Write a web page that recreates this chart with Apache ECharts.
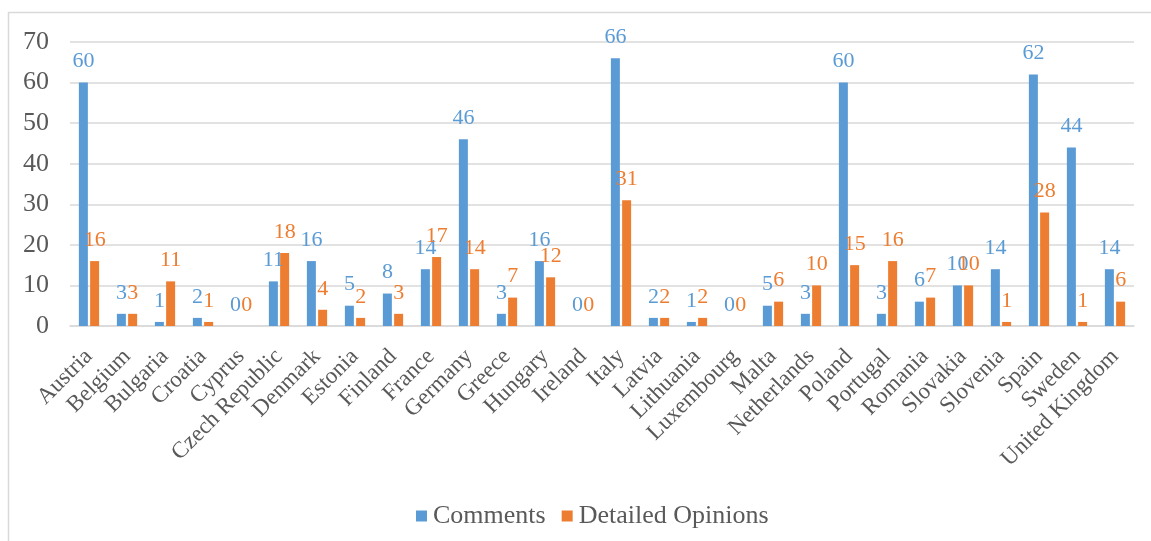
<!DOCTYPE html>
<html>
<head>
<meta charset="utf-8">
<script src="https://cdn.jsdelivr.net/npm/echarts@6/dist/echarts.min.js"></script>
<style>html,body{margin:0;padding:0;background:#fff;}#c{width:1151px;height:541px;}</style>
</head>
<body>
<div id="c"></div>
<script>
const categories = ["Austria","Belgium","Bulgaria","Croatia","Cyprus","Czech Republic","Denmark","Estonia","Finland","France","Germany","Greece","Hungary","Ireland","Italy","Latvia","Lithuania","Luxembourg","Malta","Netherlands","Poland","Portugal","Romania","Slovakia","Slovenia","Spain","Sweden","United Kingdom"];
const comments = [60,3,1,2,0,11,16,5,8,14,46,3,16,0,66,2,1,0,5,3,60,3,6,10,14,62,44,14];
const detailedOpinions = [16,3,11,1,0,18,4,2,3,17,14,7,12,0,31,2,2,0,6,10,15,16,7,10,1,28,1,6];
const yTicks = [0,10,20,30,40,50,60,70];

const font = '"Liberation Serif", "Times New Roman", serif';
const chart = echarts.init(document.getElementById('c'));
chart.setOption({
  animation: false,
  textStyle: {fontFamily: font},
  graphic: [{type:'rect', shape:{x:8.5,y:12.5,width:1160,height:560}, style:{fill:'none', stroke:'#d9d9d9', lineWidth:1.5}, silent:true}],
  grid: {left: 70, right: 17, top: 42, bottom: 215, containLabel: false},
  legend: {
    top: 498, left: 411, itemWidth: 11, itemHeight: 11, itemGap: 16,
    icon: 'rect',
    textStyle: {fontFamily: font, fontSize: 26, color: '#595959', padding: [0,0,0,1]},
    data: ['Comments','Detailed Opinions']
  },
  xAxis: {
    type: 'category', data: categories,
    axisLine: {lineStyle: {color: '#d9d9d9', width: 1.5}},
    axisTick: {show: false},
    axisLabel: {interval: 0, rotate: 45, fontFamily: font, fontSize: 23, color: '#595959', margin: 27}
  },
  yAxis: {
    type: 'value', min: yTicks[0], max: yTicks[yTicks.length-1], interval: 10,
    axisLine: {show: false}, axisTick: {show: false},
    splitLine: {lineStyle: {color: '#d9d9d9', width: 1.5}},
    axisLabel: {fontFamily: font, fontSize: 26, color: '#595959', margin: 21}
  },
  series: [
    {name: 'Comments', type: 'bar', data: comments, barWidth: 9, barGap: '25%',
     itemStyle: {color: '#5B9BD5'},
     label: {show: true, position: 'top', distance: 10, fontFamily: font, fontSize: 22, color: '#5B9BD5'}},
    {name: 'Detailed Opinions', type: 'bar', data: detailedOpinions, barWidth: 9,
     itemStyle: {color: '#ED7D31'},
     label: {show: true, position: 'top', distance: 10, fontFamily: font, fontSize: 22, color: '#ED7D31'}}
  ]
});
</script>
</body>
</html>
